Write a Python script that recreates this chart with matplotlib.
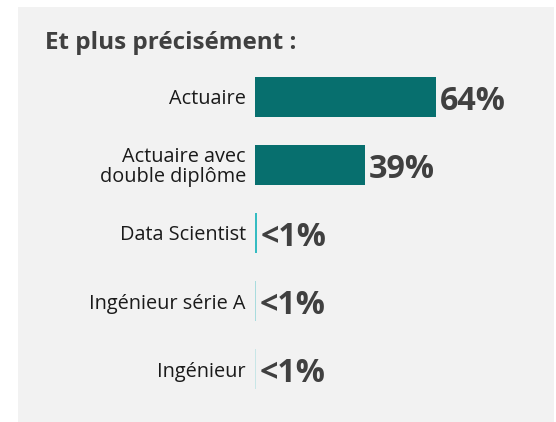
import matplotlib
matplotlib.use("Agg")
import matplotlib.pyplot as plt
from matplotlib.patches import Rectangle

# =========================
# DONNÉES
# =========================
categories = ["Actuaire", "Actuaire avec\ndouble diplôme", "Data Scientist",
              "Ingénieur série A", "Ingénieur"]
valeurs = [64, 39, 0.7, 0.35, 0.3]
etiquettes = ["64%", "39%", "<1%", "<1%", "<1%"]
couleurs = ["#076f6e", "#076f6e", "#35bcc2", "#a9dcde", "#c8e6e7"]

plt.rcParams["font.family"] = ["Open Sans", "DejaVu Sans"]

W, H = 556, 422
fig = plt.figure(figsize=(W / 100, H / 100), dpi=100)
fig.patch.set_facecolor("white")

# panneau gris de fond
fig.patches.append(Rectangle((18 / W, 0), (554 - 18) / W, (422 - 7) / H,
                             transform=fig.transFigure, facecolor="#f2f2f2",
                             edgecolor="none", zorder=-1))

ax = fig.add_axes([255 / W, 1 - 403 / H, 283 / W, 340 / H])
ax.set_zorder(2)
ax.set_facecolor("none")

pos = list(range(len(categories)))
ax.barh(pos, valeurs, height=0.59, color=couleurs)

for p, v, t in zip(pos, valeurs, etiquettes):
    ax.text(v + 1.2, p + 0.06, t, va="center", ha="left", fontsize=23.2,
            fontweight="bold", color="#404040")

ax.set_xlim(0, 100)
ax.set_ylim(4.5, -0.5)
ax.set_yticks(pos)
ax.set_yticklabels(categories, fontsize=14.3, color="#1a1a1a", linespacing=0.95)
ax.tick_params(axis="y", length=0, pad=6.5)
ax.set_xticks([])
for s in ax.spines.values():
    s.set_visible(False)

fig.text(45 / W, 1 - 43 / H, "Et plus précisément :", fontsize=17.5,
         fontweight="bold", color="#404040", va="center", ha="left", zorder=3)

fig.savefig("out.png", dpi=100)
